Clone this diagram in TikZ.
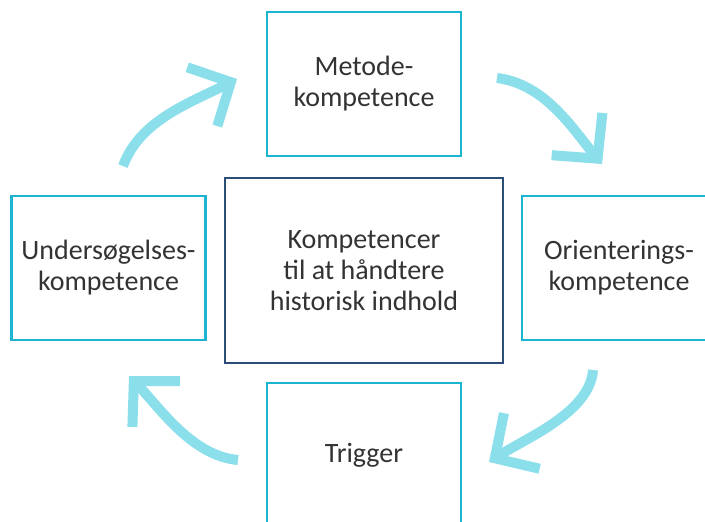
\documentclass[tikz,border=0pt]{standalone}
\usepackage{fontspec}
\setmainfont{Carlito}
\usetikzlibrary{arrows.meta}
\definecolor{boxcyan}{HTML}{1DB4D2}
\definecolor{boxnavy}{HTML}{2C4E76}
\definecolor{arrowcyan}{HTML}{8ADFEB}
\definecolor{txtgray}{HTML}{333333}
\tikzset{
    kbox/.style={draw=boxcyan, line width=2.8pt, minimum width=194pt, minimum height=144pt,
        align=center, text=txtgray, font=\fontsize{28}{31}\selectfont, inner sep=0pt},
    mainbox/.style={kbox, draw=boxnavy, minimum width=278pt, minimum height=185pt},
    cyclearrow/.style={draw=arrowcyan, line width=10pt,
        -{Straight Barb[length=32pt,width=66pt]}},
}

\begin{document}
\begin{tikzpicture}[x=1pt,y=-1pt]
\useasboundingbox (0,0) rectangle (705,522);
\clip (0,0) rectangle (705,522);
\fill[white] (0,0) rectangle (705,522);

\node[kbox] (metode) at (364,84) {Metode-\\kompetence};
\node[kbox] (orient) at (619,268) {Orienterings-\\kompetence};
\node[kbox] (trigger) at (364,455) {Trigger};
\node[kbox] (under) at (108.5,268) {Undersøgelses-\\kompetence};
\node[mainbox] (center) at (364,270.5) {Kompetencer\\til at håndtere\\historisk indhold};

% arrow ends
\coordinate (a1) at (123,166);
\coordinate (b1) at (237,79);
\coordinate (a2) at (497,78);
\coordinate (b2) at (602,164);
\coordinate (a3) at (593,370);
\coordinate (b3) at (489,462);
\coordinate (a4) at (238,460);
\coordinate (b4) at (129,376);

\draw[cyclearrow] (a1) .. controls (140,120) and (190,103) .. (b1);
\draw[cyclearrow] (a2) .. controls (545,84) and (572,128) .. (b2);
\draw[cyclearrow] (a3) .. controls (590,412) and (528,437) .. (b3);
\draw[cyclearrow] (a4) .. controls (192,456) and (160,408) .. (b4);
\end{tikzpicture}
\end{document}
